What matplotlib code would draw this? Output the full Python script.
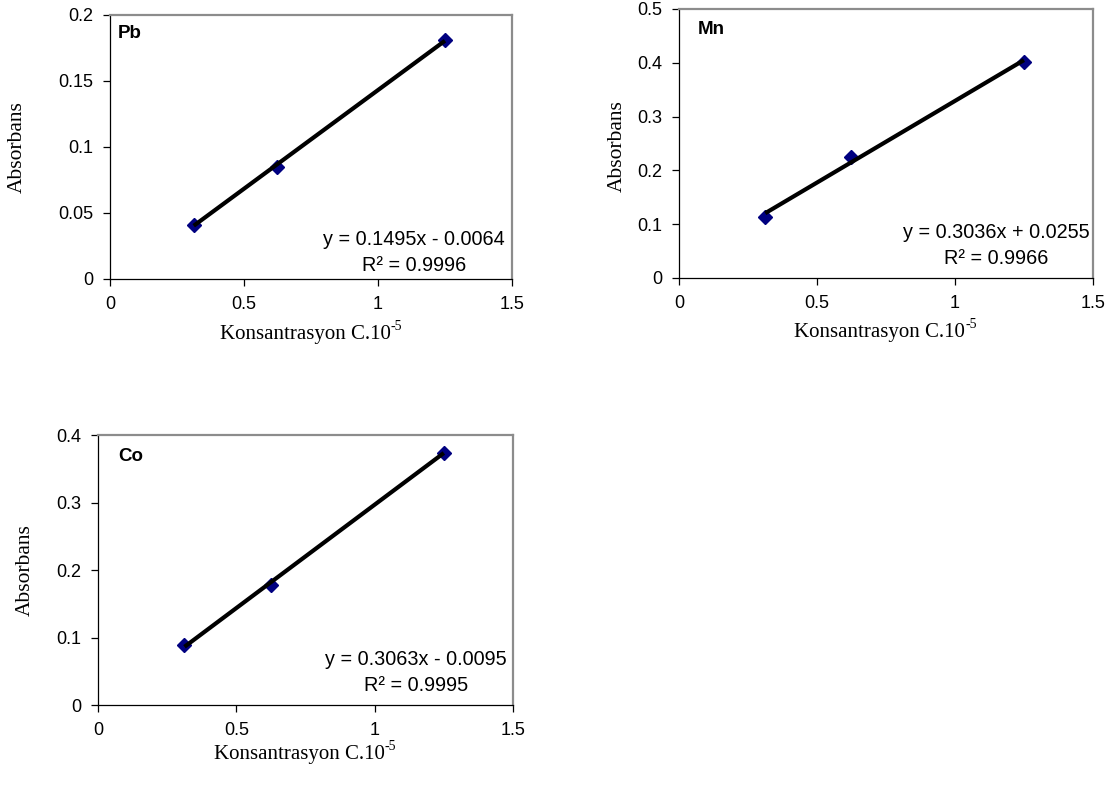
import numpy as np
import matplotlib
matplotlib.use("Agg")
import matplotlib.pyplot as plt

# Calibration data (concentration in units of 1e-5)
concentration = [0.3125, 0.625, 1.25]
pb_absorbance = [0.041, 0.085, 0.181]
mn_absorbance = [0.113, 0.225, 0.402]
co_absorbance = [0.089, 0.178, 0.373]

# Linear fit parameters reported for each metal
metals = ["Pb", "Mn", "Co"]
slopes = [0.1495, 0.3036, 0.3063]
intercepts = [-0.0064, 0.0255, -0.0095]
r_squared = [0.9996, 0.9966, 0.9995]

x_ticks = [0, 0.5, 1, 1.5]
x_tick_labels = ["0", "0.5", "1", "1.5"]
pb_y_ticks = [0, 0.05, 0.1, 0.15, 0.2]
pb_y_tick_labels = ["0", "0.05", "0.1", "0.15", "0.2"]
mn_y_ticks = [0, 0.1, 0.2, 0.3, 0.4, 0.5]
mn_y_tick_labels = ["0", "0.1", "0.2", "0.3", "0.4", "0.5"]
co_y_ticks = [0, 0.1, 0.2, 0.3, 0.4]
co_y_tick_labels = ["0", "0.1", "0.2", "0.3", "0.4"]

SANS = ["Liberation Sans", "DejaVu Sans"]
SERIF = ["Liberation Serif", "DejaVu Serif"]

fig = plt.figure(figsize=(11.14, 7.96), dpi=100)
fig.patch.set_facecolor("white")

panels = [
    dict(rect=[0.0987, 0.6495, 0.3609, 0.3317], y=pb_absorbance,
         yticks=pb_y_ticks, ylabels=pb_y_tick_labels,
         name_pos=(0.02, 0.93), eq_pos=(0.756, 0.100),
         xlab=(0.5, -0.212), ylab=(-0.231, 0.5)),
    dict(rect=[0.6095, 0.6508, 0.3716, 0.3379], y=mn_absorbance,
         yticks=mn_y_ticks, ylabels=mn_y_tick_labels,
         name_pos=(0.046, 0.922), eq_pos=(0.766, 0.121),
         xlab=(0.5, -0.204), ylab=(-0.15, 0.49)),
    dict(rect=[0.088, 0.1143, 0.3725, 0.3392], y=co_absorbance,
         yticks=co_y_ticks, ylabels=co_y_tick_labels,
         name_pos=(0.048, 0.922), eq_pos=(0.767, 0.12),
         xlab=(0.5, -0.185), ylab=(-0.176, 0.5)),
]

for i, p in enumerate(panels):
    ax = fig.add_axes(p["rect"])
    x = np.array(concentration)
    y = np.array(p["y"])

    ax.plot(x, y, linestyle="none", marker="D", markersize=7.5,
            markerfacecolor="#000080", markeredgecolor="#000080", zorder=3)

    xf = np.array([x.min(), x.max()])
    ax.plot(xf, slopes[i] * xf + intercepts[i], color="black",
            linewidth=3.0, solid_capstyle="butt", zorder=4)

    ax.set_xlim(x_ticks[0], x_ticks[-1])
    ax.set_ylim(p["yticks"][0], p["yticks"][-1])
    ax.set_xticks(x_ticks)
    ax.set_xticklabels(x_tick_labels)
    ax.set_yticks(p["yticks"])
    ax.set_yticklabels(p["ylabels"])

    for lab in ax.get_xticklabels() + ax.get_yticklabels():
        lab.set_family(SANS)
        lab.set_fontsize(13)
    ax.tick_params(axis="both", direction="out", length=5, width=0.9,
                   color="black", pad=7)

    for side in ("top", "right"):
        ax.spines[side].set_color("#8c8c8c")
        ax.spines[side].set_linewidth(1.6)
    for side in ("left", "bottom"):
        ax.spines[side].set_color("black")
        ax.spines[side].set_linewidth(0.9)
    for sp in ax.spines.values():
        sp.set_clip_on(False)

    ax.text(p["name_pos"][0], p["name_pos"][1], metals[i],
            transform=ax.transAxes, family=SANS, fontsize=13.5,
            fontweight="bold", ha="left", va="center")

    sign = "-" if intercepts[i] < 0 else "+"
    eq = (f"y = {slopes[i]:.4f}x {sign} {abs(intercepts[i]):.4f}\n"
          f"R\u00b2 = {r_squared[i]:.4f}")
    ax.text(p["eq_pos"][0], p["eq_pos"][1], eq, transform=ax.transAxes,
            family=SANS, fontsize=14.3, ha="center", va="center",
            multialignment="center", linespacing=1.5)

    xl = ax.set_xlabel("Konsantrasyon C.10", family=SERIF, fontsize=15,
                       va="center", ha="center")
    ax.xaxis.set_label_coords(p["xlab"][0] - 0.015, p["xlab"][1])
    ax.annotate("-5", xy=(1.0, 0.95), xycoords=xl, family=SERIF,
                fontsize=10, ha="left", va="center")
    ax.set_ylabel("Absorbans", family=SERIF, fontsize=15.5,
                  va="center", ha="center")
    ax.yaxis.set_label_coords(*p["ylab"])

fig.savefig("out.png", dpi=100, facecolor="white")
